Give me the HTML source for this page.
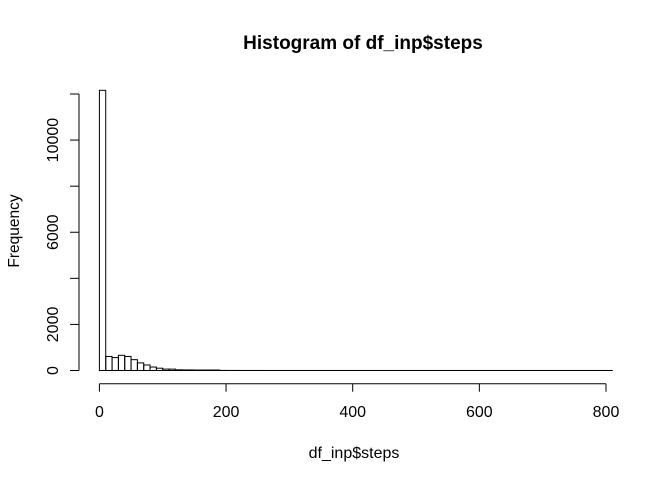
<!DOCTYPE html>
<html><head><meta charset="utf-8"><style>
body{margin:0;background:#fff}
svg text{font-family:"Liberation Sans",Arial,sans-serif;fill:#000}
</style></head><body>
<svg width="672" height="480" viewBox="0 0 672 480">
<text x="363" y="49" font-size="19" font-weight="bold" text-anchor="middle">Histogram of df_inp$steps</text>
<g id="bars"></g>
<g id="xaxis"></g>
<g id="yaxis"></g>
<text x="354" y="458" font-size="16" text-anchor="middle">df_inp$steps</text>
<text transform="translate(19,231) rotate(-90)" font-size="15.5" text-anchor="middle">Frequency</text>
</svg>
<script>
const binWidth = 10;
const counts = [12160,610,560,660,610,470,330,240,150,100,60,60,30,25,25,20,20,20,20,5,3,3,2,2,2,2,1,1,1,1,1,1,1,1,1,1,1,1,1,1,1,1,1,1,1,1,1,1,1,1,1,1,1,1,1,1,1,1,1,1,1,1,1,1,1,1,1,1,1,1,1,1,1,1,1,1,1,1,1,1,1];
const xTicks = [0,200,400,600,800];
const yTicks = [0,2000,4000,6000,8000,10000,12000];
const yLabels = [0,2000,6000,10000];
const NS = "http://www.w3.org/2000/svg";
const x = v => 99.4 + v * (506.6/800);
const y = v => 370.5 - v * (276.5/12000);
const bars = document.getElementById('bars');
counts.forEach((c,i)=>{
  const r = document.createElementNS(NS,'rect');
  r.setAttribute('x', x(i*binWidth));
  r.setAttribute('y', y(c));
  r.setAttribute('width', x(binWidth)-x(0));
  r.setAttribute('height', Math.max(0,y(0)-y(c)));
  r.setAttribute('fill','none');r.setAttribute('stroke','#000');r.setAttribute('stroke-width','1');
  
  
  bars.appendChild(r);
});
const xa = document.getElementById('xaxis');
const ay = 383.7;
let l = document.createElementNS(NS,'line');
l.setAttribute('x1',x(xTicks[0]));l.setAttribute('x2',x(xTicks[xTicks.length-1]));l.setAttribute('y1',ay);l.setAttribute('y2',ay);l.setAttribute('stroke','#000');


xa.appendChild(l);
xTicks.forEach(t=>{
  const tk=document.createElementNS(NS,'line');
  tk.setAttribute('x1',x(t));tk.setAttribute('x2',x(t));tk.setAttribute('y1',ay);tk.setAttribute('y2',ay+8);tk.setAttribute('stroke','#000');
  
  
  xa.appendChild(tk);
  const tx=document.createElementNS(NS,'text');
  tx.setAttribute('x',x(t));tx.setAttribute('y',417);tx.setAttribute('font-size','16');tx.setAttribute('text-anchor','middle');
  tx.textContent=t;
  
  
  xa.appendChild(tx);
});
const ya = document.getElementById('yaxis');
const ax = 79;
l = document.createElementNS(NS,'line');
l.setAttribute('x1',ax);l.setAttribute('x2',ax);l.setAttribute('y1',y(yTicks[0]));l.setAttribute('y2',y(yTicks[yTicks.length-1]));l.setAttribute('stroke','#000');


ya.appendChild(l);
yTicks.forEach(t=>{
  const tk=document.createElementNS(NS,'line');
  tk.setAttribute('x1',ax-9);tk.setAttribute('x2',ax);tk.setAttribute('y1',y(t));tk.setAttribute('y2',y(t));tk.setAttribute('stroke','#000');
  
  
  ya.appendChild(tk);
});
yLabels.forEach(t=>{
  const tx=document.createElementNS(NS,'text');
  tx.setAttribute('transform','translate(58,'+y(t)+') rotate(-90)');
  tx.setAttribute('font-size','16');tx.setAttribute('text-anchor','middle');
  tx.textContent=t;
  
  
  ya.appendChild(tx);
});
</script>
</body></html>
